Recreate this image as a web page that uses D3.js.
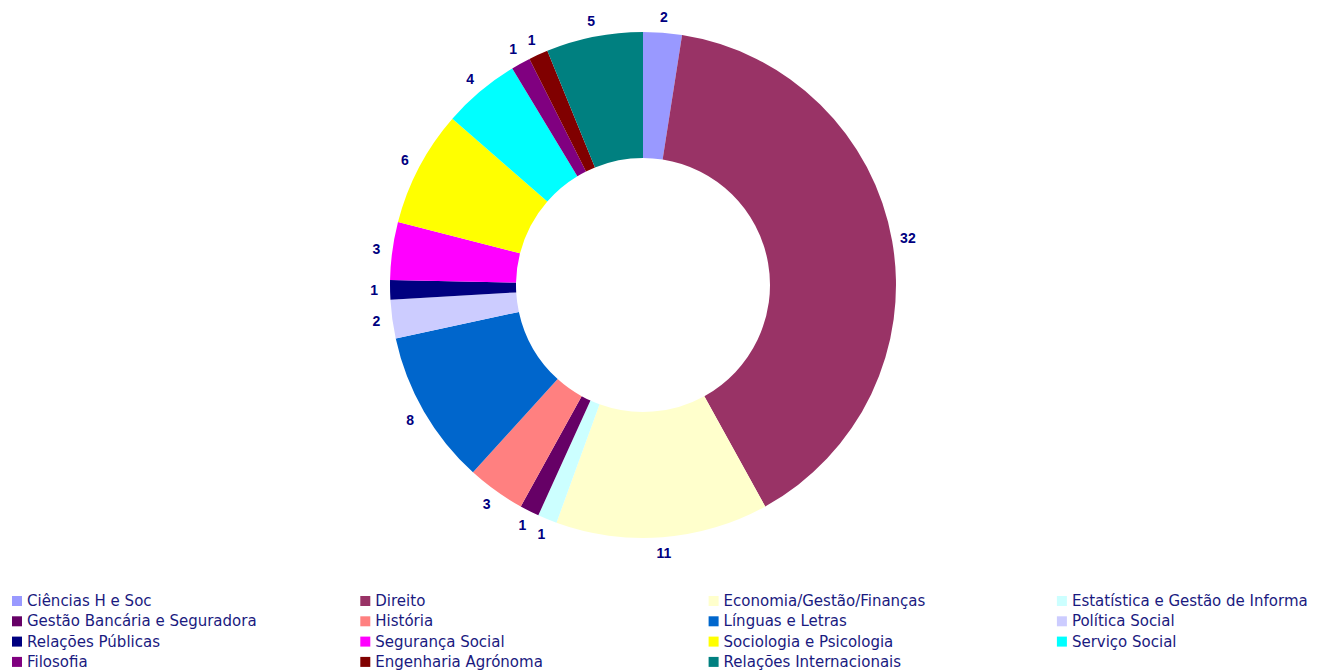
<!DOCTYPE html>
<html>
<head>
<meta charset="utf-8">
<script src="https://cdn.jsdelivr.net/npm/d3@7"></script>
<style>
  html, body { margin: 0; padding: 0; background: #fff; }
  svg { display: block; }
</style>
</head>
<body>
<svg id="chart" width="1318" height="670"></svg>
<script>
// Areas of study and the number of people in each
const categories = [
  "Ciências H e Soc", "Direito", "Economia/Gestão/Finanças", "Estatística e Gestão de Informa",
  "Gestão Bancária e Seguradora", "História", "Línguas e Letras", "Política Social",
  "Relações Públicas", "Segurança Social", "Sociologia e Psicologia", "Serviço Social",
  "Filosofia", "Engenharia Agrónoma", "Relações Internacionais"
];
const values = [2, 32, 11, 1, 1, 3, 8, 2, 1, 3, 6, 4, 1, 1, 5];
const colors = [
  "#9999FF", "#993366", "#FFFFCC", "#CCFFFF", "#660066", "#FF8080", "#0066CC", "#CCCCFF",
  "#000080", "#FF00FF", "#FFFF00", "#00FFFF", "#800080", "#800000", "#008080"
];

const data = categories.map((c, i) => ({ name: c, value: values[i], color: colors[i] }));

const svg = d3.select("#chart");
const cx = 643, cy = 285;
const outerR = 253, innerR = 127;
const labelR = 269;

const pie = d3.pie().value(d => d.value).sort(null);
const arc = d3.arc().innerRadius(innerR).outerRadius(outerR);
const arcs = pie(data);

const g = svg.append("g").attr("transform", `translate(${cx},${cy})`);

g.selectAll("path.slice")
  .data(arcs)
  .join("path")
  .attr("class", "slice")
  .attr("d", arc)
  .attr("fill", d => d.data.color);

// value labels just outside the ring
const mid = d => (d.startAngle + d.endAngle) / 2;
g.selectAll("text.val")
  .data(arcs)
  .join("text")
  .attr("class", "val")
  .attr("x", d => labelR * Math.sin(mid(d)))
  .attr("y", d => -labelR * Math.cos(mid(d)))
  .attr("text-anchor", "middle")
  .attr("dominant-baseline", "central")
  .attr("font-family", "Arial, 'Liberation Sans', sans-serif")
  .attr("font-weight", "bold")
  .attr("font-size", 14)
  .attr("fill", "#000080")
  .text(d => d.data.value);

// legend, four columns
const cols = 4, colW = 348.3, rowH = 20.3;
const legend = svg.append("g").attr("transform", "translate(12,601)");
const items = legend.selectAll("g.item")
  .data(data)
  .join("g")
  .attr("class", "item")
  .attr("transform", (d, i) => `translate(${(i % cols) * colW},${Math.floor(i / cols) * rowH})`);

items.append("rect")
  .attr("x", 0).attr("y", -5)
  .attr("width", 10).attr("height", 10)
  .attr("fill", d => d.color);

items.append("text")
  .attr("x", 15)
  .attr("y", 0)
  .attr("dominant-baseline", "central")
  .attr("font-family", "Tahoma, 'DejaVu Sans', Verdana, sans-serif")
  .attr("font-size", 15)
  .attr("fill", "#1a1a80")
  .text(d => d.name);
</script>
</body>
</html>
